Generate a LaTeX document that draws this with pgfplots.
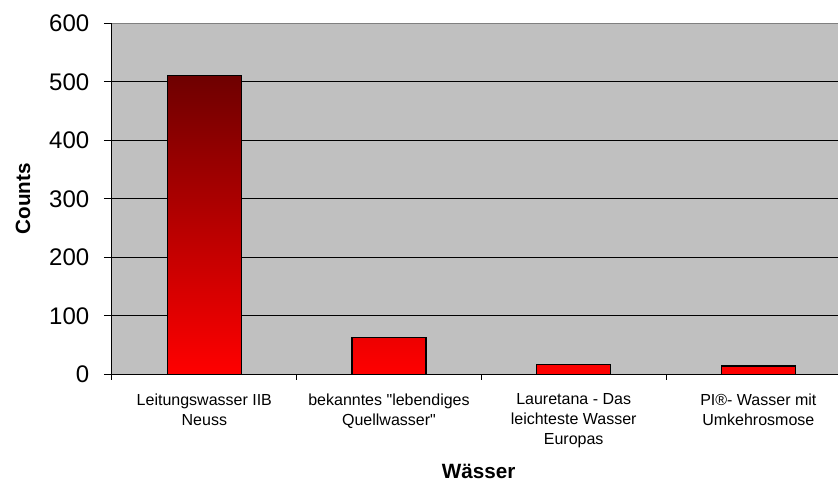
\documentclass[border=0pt]{standalone}
\usepackage{fontspec}
\setmainfont{Liberation Sans}[Ligatures=TeXOff]
\usepackage{pgfplots}
\pgfplotsset{compat=1.18}
\definecolor{plotbg}{RGB}{192,192,192}
\definecolor{bartop}{RGB}{110,0,0}
\definecolor{barbot}{RGB}{255,0,0}
\begin{document}
\begin{tikzpicture}
\begin{axis}[
  at={(0,0)}, anchor=south west,
  scale only axis,
  width=554pt, height=263.25pt,
  xmin=-0.5, xmax=3.5,
  ymin=0, ymax=600,
  ytick={0,100,...,600},
  xtick={0,1,2,3},
  xticklabels={{Leitungswasser IIB\\Neuss},{bekanntes "lebendiges\\Quellwasser"},{Lauretana - Das\\leichteste Wasser\\Europas},{PI®- Wasser mit\\Umkehrosmose}},
  minor xtick={-0.5,0.5,1.5,2.5,3.5},
  major tick length=6pt,
  minor tick length=4pt,
  major x tick style={draw=none},
  minor x tick style={black, line width=0.75pt},
  major y tick style={black, line width=0.75pt},
  tick align=outside,
  separate axis lines,
  axis x line*=bottom,
  axis y line*=left,
  axis line style={black, line width=0.75pt, -},
  axis background/.style={fill=plotbg},
  ymajorgrids,
  major grid style={black, line width=0.75pt},
  /pgf/number format/assume math mode=true,
  yticklabel style={font=\fontsize{18}{21}\selectfont, xshift=-7.5pt},
  xticklabel style={font=\fontsize{12}{15}\selectfont, align=center, anchor=north, yshift=-5pt},
  ylabel={Counts},
  xlabel={Wässer},
  ylabel style={font=\fontsize{15.5}{18}\bfseries\selectfont, at={(axis description cs:0,0.5)}, anchor=center, yshift=66.75pt},
  xlabel style={font=\fontsize{15.5}{18}\bfseries\selectfont, at={(axis description cs:0.5,0)}, anchor=base, yshift=-78pt, xshift=-2pt},
  clip=false,
]
\addplot[ybar, bar width=55.5pt, bar shift=0pt, draw=black, line width=1pt,
  top color=bartop, bottom color=barbot] coordinates {(0,511) (1,63) (2,17) (3,14)};
\draw[gray, line width=0.75pt] (rel axis cs:0,1) -- (rel axis cs:1,1);
\end{axis}
\pgfresetboundingbox
\path[use as bounding box] (-84pt,-80pt) rectangle (544.5pt,280.75pt);
\end{tikzpicture}
\end{document}
